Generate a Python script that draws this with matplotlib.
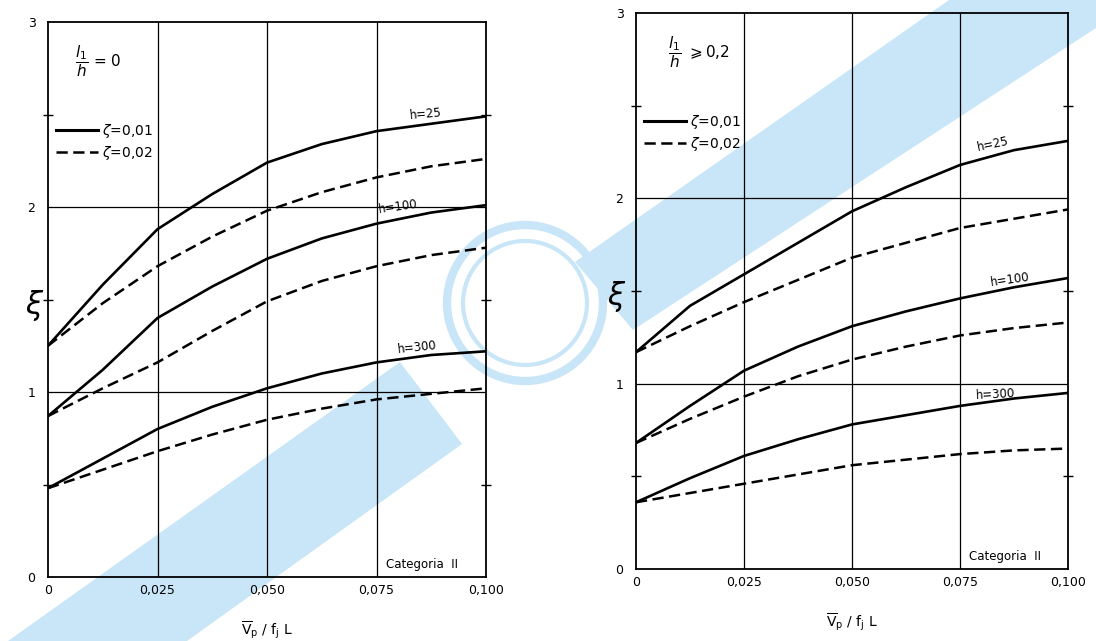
import matplotlib
matplotlib.use("Agg")
import matplotlib.pyplot as plt
from matplotlib.patches import Polygon, Circle
from matplotlib.lines import Line2D

plt.rcParams['font.family'] = ['DejaVu Sans']
plt.rcParams['mathtext.fontset'] = 'dejavusans'

# abscissa Vp / fj L, read every 0.0125
xs = [0, 0.0125, 0.025, 0.0375, 0.05, 0.0625, 0.075, 0.0875, 0.100]
x_ticks = [0, 0.025, 0.050, 0.075, 0.100]
x_labels = ['0', '0,025', '0,050', '0,075', '0,100']
y_ticks = [0, 1, 2, 3]
heights = ['h=25', 'h=100', 'h=300']

# left chart, l1/h = 0
left_z01 = [
    [1.25, 1.58, 1.88, 2.07, 2.24, 2.34, 2.41, 2.45, 2.49],   # h=25
    [0.87, 1.12, 1.40, 1.57, 1.72, 1.83, 1.91, 1.97, 2.01],   # h=100
    [0.48, 0.64, 0.80, 0.92, 1.02, 1.10, 1.16, 1.20, 1.22],   # h=300
]
left_z02 = [
    [1.25, 1.48, 1.68, 1.84, 1.98, 2.08, 2.16, 2.22, 2.26],
    [0.87, 1.02, 1.16, 1.33, 1.49, 1.60, 1.68, 1.74, 1.78],
    [0.48, 0.58, 0.68, 0.77, 0.85, 0.91, 0.96, 0.99, 1.02],
]
# right chart, l1/h >= 0,2
right_z01 = [
    [1.17, 1.42, 1.59, 1.76, 1.93, 2.06, 2.18, 2.26, 2.31],
    [0.68, 0.88, 1.07, 1.20, 1.31, 1.39, 1.46, 1.52, 1.57],
    [0.36, 0.49, 0.61, 0.70, 0.78, 0.83, 0.88, 0.92, 0.95],
]
right_z02 = [
    [1.17, 1.31, 1.44, 1.56, 1.68, 1.76, 1.84, 1.89, 1.94],
    [0.68, 0.81, 0.93, 1.04, 1.13, 1.20, 1.26, 1.30, 1.33],
    [0.36, 0.41, 0.46, 0.51, 0.56, 0.59, 0.62, 0.64, 0.65],
]

W, H = 1096, 641
fig = plt.figure(figsize=(W / 100, H / 100), dpi=100)
fig.patch.set_facecolor('white')


def fpt(px, py):
    return (px / W, 1 - py / H)


# watermark band and logo from the scan, kept behind everything
blue = '#c9e6f8'
band_lo = Polygon([fpt(8, 641), fpt(187, 641), fpt(462, 444), fpt(400, 362)],
                  closed=True, transform=fig.transFigure, facecolor=blue,
                  edgecolor='none', zorder=-2)
band_hi = Polygon([fpt(575, 262), fpt(633, 330), fpt(1096, 28), fpt(1096, 0), fpt(949, 0)],
                  closed=True, transform=fig.transFigure, facecolor=blue,
                  edgecolor='none', zorder=-2)
fig.patches.extend([band_lo, band_hi])
for r, lw in [(78, 6), (62, 3)]:
    # pixel coordinates (identity transform), origin at bottom-left
    c = Circle((525, H - 303), r, transform=None, facecolor='none',
               edgecolor=blue, lw=lw, zorder=-2)
    fig.patches.append(c)

ax1 = fig.add_axes([48 / W, 1 - 577 / H, (486 - 48) / W, (577 - 22) / H])
ax2 = fig.add_axes([636 / W, 1 - 569 / H, (1068 - 636) / W, (569 - 13) / H])


def draw(ax, z01, z02, title, title_x, labpos, xi_x):
    ax.patch.set_alpha(0)
    for s1, s2 in zip(z01, z02):
        ax.plot(xs, s1, color='black', lw=1.9, solid_capstyle='round', zorder=3)
        ax.plot(xs, s2, color='black', lw=1.8, dashes=(4.5, 2.2), zorder=3)
    ax.set_xlim(0, 0.1)
    ax.set_ylim(0, 3)
    for g in [0.025, 0.05, 0.075]:
        ax.axvline(g, color='black', lw=0.9, zorder=1)
    for g in [1, 2]:
        ax.axhline(g, color='black', lw=0.9, zorder=1)
    for sp in ax.spines.values():
        sp.set_linewidth(1.3)
    ax.set_xticks(x_ticks)
    ax.set_xticklabels(x_labels, fontsize=9)
    ax.set_yticks(y_ticks)
    ax.set_yticklabels([str(v) for v in y_ticks], fontsize=9)
    ax.set_yticks([0.5, 1.5, 2.5], minor=True)
    ax.tick_params(axis='x', which='major', length=0, pad=5)
    ax.tick_params(axis='y', which='major', length=0, pad=9)
    ax.tick_params(axis='y', which='minor', length=7, width=1.0,
                   direction='inout', left=True, right=True)
    # y and x titles placed by hand, as in the scan
    ax.text(xi_x, 0.49, r'$\xi$', fontsize=22, ha='center', va='center',
            transform=ax.transAxes)
    ax.text(0.5, -0.095,
            r'$\overline{\mathrm{V}}_{\mathrm{p}}\ /\ \mathrm{f}_{\mathrm{j}}\ \mathrm{L}$',
            fontsize=10, ha='center', va='center', transform=ax.transAxes)
    ax.text(title_x, 2.79, title, fontsize=11, ha='left', va='center')
    ax.text(0.0855, 0.07, 'Categoria  II', fontsize=8.5, ha='center', va='center')
    for (tx, ty, rot), lab in zip(labpos, heights):
        ax.text(tx, ty, lab, fontsize=8.5, ha='center', va='center', rotation=rot)
    handles = [Line2D([], [], color='black', lw=2.2),
               Line2D([], [], color='black', lw=1.8, dashes=(4.5, 2.2))]
    ax.legend(handles, [r'$\zeta$=0,01', r'$\zeta$=0,02'], loc='upper left',
              bbox_to_anchor=(0.0, 0.835), frameon=False, fontsize=10,
              handlelength=3.0, handletextpad=0.3, labelspacing=0.3,
              borderaxespad=0.2)


draw(ax1, left_z01, left_z02, r'$\dfrac{l_1}{h}$ = 0', 0.0062,
     [(0.0863, 2.50, 5), (0.0799, 2.00, 8), (0.0842, 1.24, 6)], -0.03)
draw(ax2, right_z01, right_z02, r'$\dfrac{l_1}{h}\ \geqslant$0,2', 0.0075,
     [(0.0826, 2.29, 12), (0.0866, 1.56, 8), (0.0831, 0.94, 3)], -0.045)

fig.savefig('out.png', dpi=100)
